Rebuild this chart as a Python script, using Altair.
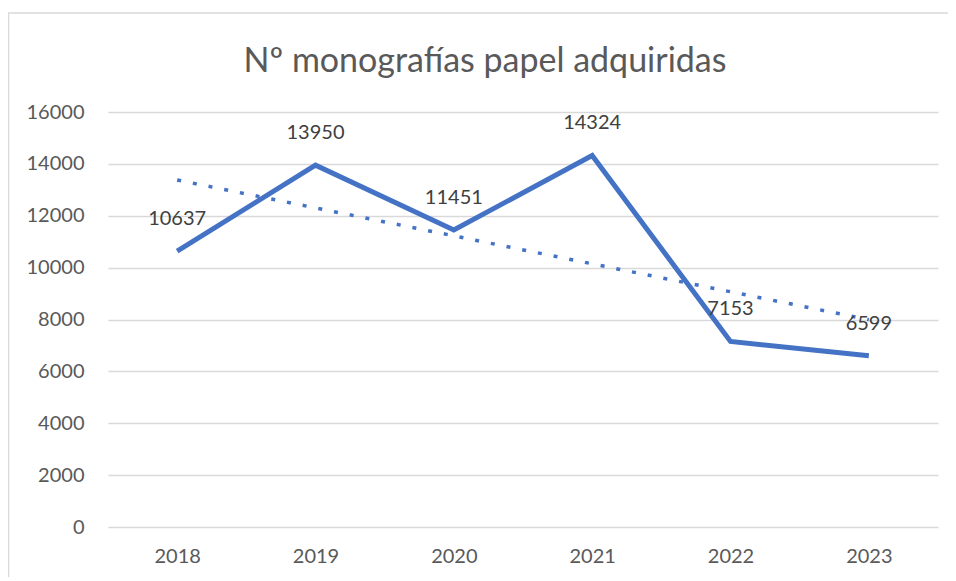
import altair as alt
import pandas as pd
import numpy as np

years = ["2018", "2019", "2020", "2021", "2022", "2023"]
values = [10637, 13950, 11451, 14324, 7153, 6599]
title_text = "Nº monografías papel adquiridas"
y_ticks = [0, 2000, 4000, 6000, 8000, 10000, 12000, 14000, 16000]

# linear trendline (least squares over category index), as Excel does
idx = np.arange(len(values))
slope, intercept = np.polyfit(idx, values, 1)
trend = [float(intercept + slope * i) for i in idx]

df = pd.DataFrame({"year": years, "value": values, "trend": trend})

FONT = "Lato"
BLUE = "#4472C4"
YSCALE = alt.Scale(domain=[0, 16000], nice=False)

x_enc = alt.X("year:O", title=None, sort=years,
              scale=alt.Scale(type="point", padding=0.5),
              axis=alt.Axis(labelAngle=0, labelFontSize=20, labelColor="#595959",
                            labelFont=FONT, ticks=False, tickSize=0, domain=False,
                            grid=False, labelPadding=19))
y_enc = alt.Y("value:Q", title=None, scale=YSCALE,
              axis=alt.Axis(values=y_ticks, format="d", labelFontSize=20,
                            labelColor="#595959",
                            labelFont=FONT, ticks=False, tickSize=0, domain=False,
                            gridColor="#d9d9d9", gridWidth=1.5, labelPadding=24))

base = alt.Chart(df)

main_line = base.mark_line(color=BLUE, strokeWidth=5, strokeJoin="miter").encode(
    x=x_enc, y=y_enc)

trend_line = base.mark_line(color=BLUE, strokeWidth=3.5, strokeDash=[4, 12],
                            strokeCap="butt").encode(
    x=alt.X("year:O", sort=years),
    y=alt.Y("trend:Q", scale=YSCALE))

labels = base.mark_text(dy=-32, fontSize=20, font=FONT, color="#404040",
                        baseline="middle").encode(
    x=alt.X("year:O", sort=years),
    y=alt.Y("value:Q"), text="value:Q")

title = alt.Chart(pd.DataFrame({"t": [title_text]})).mark_text(
    fontSize=34, font=FONT, color="#595959", baseline="alphabetic", align="center").encode(
    x=alt.value(377), y=alt.value(-40), text="t:N")

border_top = alt.Chart(pd.DataFrame({"a": [0]})).mark_rule(
    color="#d9d9d9", strokeWidth=1.5).encode(
    x=alt.value(-100), x2=alt.value(860), y=alt.value(-99))
border_left = alt.Chart(pd.DataFrame({"a": [0]})).mark_rule(
    color="#d9d9d9", strokeWidth=1.5).encode(
    x=alt.value(-99.5), y=alt.value(-99), y2=alt.value(480))

chart = alt.layer(main_line, trend_line, labels, title, border_top, border_left).properties(
    width=830, height=415,
    padding={"left": 100, "top": 104, "right": 10, "bottom": 50},
    autosize=alt.AutoSizeParams(type="none"),
    background="white",
).configure_view(stroke=None)

chart.save("out.html", embed_options={"renderer": "svg", "actions": False})
